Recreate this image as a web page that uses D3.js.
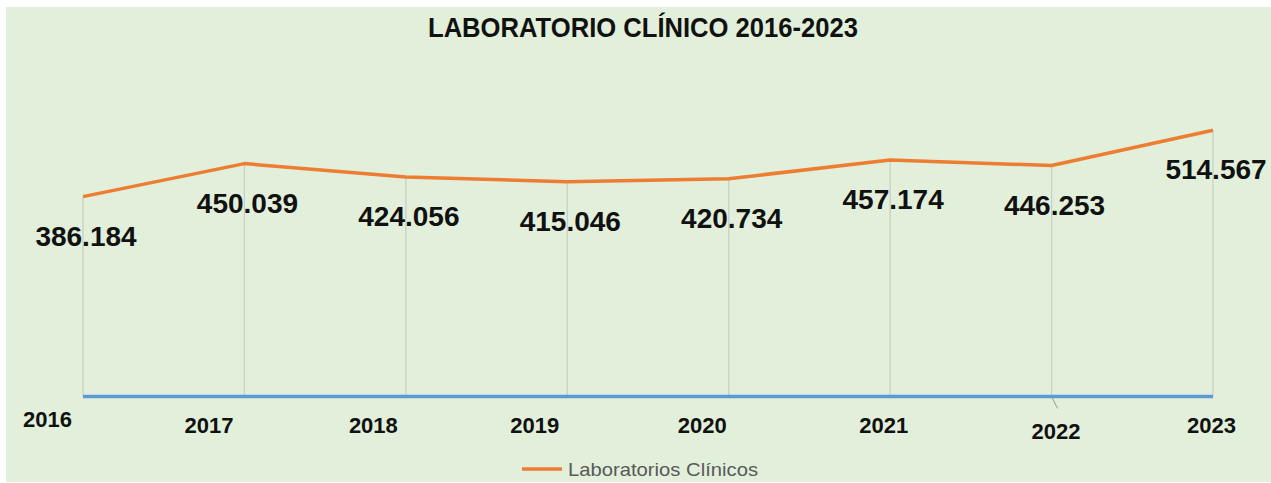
<!DOCTYPE html>
<html>
<head>
<meta charset="utf-8">
<script src="https://cdn.jsdelivr.net/npm/d3@7"></script>
<style>
    body { margin: 0; background: #fff; }
    svg { display: block; }
    text { font-family: "Liberation Sans", Arial, sans-serif; }
</style>
</head>
<body>
<svg width="1271" height="483"></svg>
<script>
const years = ["2016", "2017", "2018", "2019", "2020", "2021", "2022", "2023"];
const labValues = [386184, 450039, 424056, 415046, 420734, 457174, 446253, 514567];
const baseValues = [0, 0, 0, 0, 0, 0, 0, 0];
const yDomain = [0, 600000];

// year labels sit a bit off their points, like in the original
const yearNudge = [[-36, -6], [-36, 0], [-33, 0], [-33, 0], [-27, 0], [-7, 0], [4, 6], [-2, 0]];

const svg = d3.select("svg");
const fmt = d3.formatLocale({ decimal: ",", thousands: ".", grouping: [3], currency: ["", ""] }).format(",");

svg.append("rect")
   .attr("x", 6).attr("y", 7)
   .attr("width", 1265).attr("height", 475)
   .attr("fill", "#e2efda");

const x = d3.scalePoint().domain(years).range([83, 1213]);
const y = d3.scaleLinear().domain(yDomain).range([396.5, 86]);

svg.append("text")
   .attr("x", 643).attr("y", 37)
   .attr("text-anchor", "middle")
   .attr("font-size", 28).attr("font-weight", "bold")
   .attr("textLength", 430).attr("lengthAdjust", "spacingAndGlyphs")
   .attr("fill", "#111")
   .text("LABORATORIO CLÍNICO 2016-2023");

// drop lines
svg.append("g").selectAll("line")
   .data(labValues)
   .join("line")
   .attr("x1", (d, i) => x(years[i])).attr("x2", (d, i) => x(years[i]))
   .attr("y1", d => y(d)).attr("y2", y(0))
   .attr("stroke", "#c8ccc4").attr("stroke-width", 1.2);

// small leader under 2022
svg.append("line")
   .attr("x1", x("2022")).attr("y1", y(0))
   .attr("x2", x("2022") + 6).attr("y2", y(0) + 12)
   .attr("stroke", "#999").attr("stroke-width", 1);

const line = d3.line().x((d, i) => x(years[i])).y(d => y(d));

svg.append("path")
   .datum(baseValues)
   .attr("d", line)
   .attr("fill", "none")
   .attr("stroke", "#5b9bd5").attr("stroke-width", 3.5);

svg.append("path")
   .datum(labValues)
   .attr("d", line)
   .attr("fill", "none")
   .attr("stroke", "#ed7d31").attr("stroke-width", 3.5)
   .attr("stroke-linejoin", "round");

svg.append("g").selectAll("text")
   .data(labValues)
   .join("text")
   .attr("x", (d, i) => x(years[i]) + 3)
   .attr("y", d => y(d) + 49)
   .attr("text-anchor", "middle")
   .attr("font-size", 28).attr("font-weight", "bold")
   .attr("fill", "#111")
   .text(d => fmt(d));

const axis = svg.append("g")
   .attr("transform", `translate(0,${y(0)})`)
   .call(d3.axisBottom(x).tickSize(0).tickPadding(0));
axis.select(".domain").remove();
axis.selectAll("text")
   .attr("font-family", "'Liberation Sans', Arial, sans-serif")
   .attr("font-size", 22).attr("font-weight", "bold")
   .attr("fill", "#111")
   .attr("dy", null)
   .attr("x", (d, i) => yearNudge[i][0])
   .attr("y", (d, i) => 36.5 + yearNudge[i][1]);

// legend
const legend = svg.append("g");
legend.append("line")
   .attr("x1", 522).attr("x2", 562)
   .attr("y1", 469).attr("y2", 469)
   .attr("stroke", "#ed7d31").attr("stroke-width", 3.5);
legend.append("text")
   .attr("x", 568).attr("y", 476)
   .attr("font-size", 19)
   .attr("textLength", 190).attr("lengthAdjust", "spacingAndGlyphs")
   .attr("fill", "#595959")
   .text("Laboratorios Clínicos");
</script>
</body>
</html>
